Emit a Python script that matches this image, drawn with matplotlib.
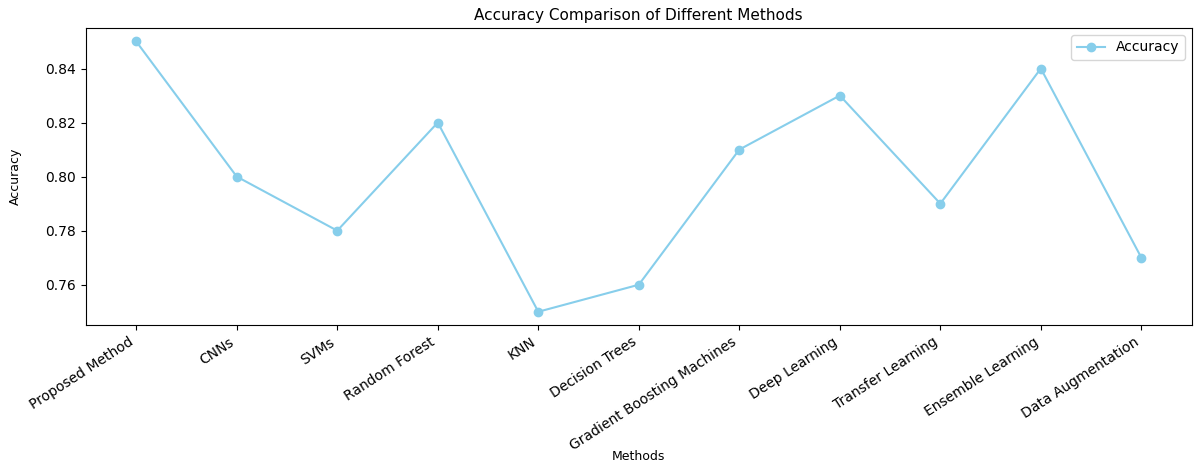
import matplotlib.pyplot as plt

methods = ["Proposed Method", "CNNs", "SVMs", "Random Forest", "KNN", "Decision Trees",
           "Gradient Boosting Machines", "Deep Learning", "Transfer Learning",
           "Ensemble Learning", "Data Augmentation"]
accuracy = [0.85, 0.80, 0.78, 0.82, 0.75, 0.76, 0.81, 0.83, 0.79, 0.84, 0.77]

fig = plt.figure(figsize=(11.94, 4.66), dpi=100)
ax = fig.add_axes([0.072, 0.302, 0.926, 0.638])
ax.plot(methods, accuracy, marker="o", color="skyblue", label="Accuracy")
ax.set_title("Accuracy Comparison of Different Methods", fontsize=11)
plt.setp(ax.get_xticklabels(), rotation=33, ha="right")
ax.legend()
# labels placed by hand, the reference picture is squashed vertically
ax.xaxis.set_label_coords(0.5, -0.42)
ax.set_xlabel("Methods", fontsize=9)
ax.yaxis.set_label_coords(-0.058, 0.5)
ax.set_ylabel("Accuracy", fontsize=9)
fig.savefig("out.png")
